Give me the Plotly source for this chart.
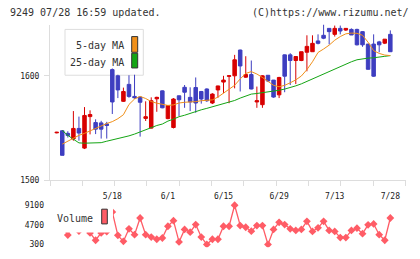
import plotly.graph_objects as go

W, H = 420, 259


def fx(px):
    return px / W


def fy(py):
    return 1 - py / H


# ---------------- data ----------------
tick_idx = [10, 20, 30, 40, 50, 60]
tick_labels = ["5/18", "6/1", "6/15", "6/29", "7/13", "7/28"]

opens = [1545.5, 1547.5, 1545, 1539.6, 1549.7, 1530.9, 1561, 1555.3, 1555, 1554,
         1605.9, 1600, 1575.6, 1591.8, 1580.3, 1579.7, 1559.3, 1550, 1578, 1585.6,
         1559.1, 1550.6, 1580.9, 1589, 1579.4, 1588.8, 1585, 1587.4, 1574, 1586.5,
         1594, 1599.5, 1600, 1624.6, 1598.7, 1601.2, 1575, 1572.4, 1600.5, 1595.9,
         1581.8, 1620, 1620, 1614.6, 1614.6, 1622.5, 1623, 1633.3, 1638.7, 1645.3,
         1639.6, 1645.3, 1643.7, 1644.3, 1644.3, 1642.2, 1630.3, 1630.3, 1632.4, 1631.2,
         1639.6]
highs = [1546.5, 1548, 1547, 1566.3, 1561, 1570.1, 1567, 1558.4, 1557, 1556,
         1607, 1601, 1588.7, 1600.5, 1601, 1580, 1575.6, 1579.4, 1580, 1586,
         1572, 1578.7, 1581, 1591.2, 1589, 1598.4, 1585.5, 1588, 1583.4, 1590.5,
         1600, 1600.3, 1620, 1625, 1618.7, 1614.6, 1589.7, 1600.6, 1600.6, 1596,
         1599, 1620.3, 1621.6, 1618.7, 1623, 1638.7, 1638.7, 1639.6, 1649, 1645.5,
         1648, 1648, 1645.5, 1645.3, 1645, 1642.5, 1630.5, 1639.6, 1633.4, 1635,
         1643.4]
lows = [1545, 1524, 1541, 1538, 1538, 1530, 1544, 1544.3, 1540, 1540,
        1563.5, 1578.7, 1575, 1579, 1578, 1541.9, 1556.8, 1549.5, 1565.6, 1569,
        1558.5, 1549.7, 1561.6, 1569.4, 1566.3, 1564.7, 1573.4, 1575, 1573, 1579,
        1583.4, 1573.8, 1588, 1585, 1598, 1587, 1569.4, 1569.4, 1594, 1579,
        1578.7, 1584.3, 1591.2, 1592.1, 1614, 1604.3, 1623, 1630, 1635, 1630,
        1637.5, 1639.6, 1642.8, 1639, 1629, 1627.7, 1606, 1599, 1622.5, 1630.3,
        1622.8]
closes = [1546, 1524, 1543, 1549.7, 1545.3, 1562.1, 1563, 1549, 1549, 1552.5,
          1575, 1586.5, 1585, 1580.3, 1579, 1574.7, 1560.9, 1576.2, 1579.4, 1569.4,
          1571.5, 1577.8, 1577.1, 1584.3, 1575, 1574, 1577.8, 1576.2, 1582.5, 1590.3,
          1595.9, 1600, 1615.3, 1609.4, 1601.2, 1587.4, 1576.2, 1600, 1595, 1579.7,
          1598.4, 1599.6, 1614.6, 1618.4, 1623, 1628.1, 1631, 1631, 1635.9, 1642.2,
          1645.3, 1642.8, 1645.3, 1639, 1629.6, 1629.6, 1606.2, 1599.6, 1629.6, 1635,
          1623]

ma5 = [None, 1534.7, 1537.5, 1540.3, 1543.1, 1545.0, 1547.3, 1549.7, 1552.5, 1554.4,
       1556.2, 1559.0, 1562.8, 1572.6, 1577.8, 1580.3, 1578.3, 1575.4, 1573.8, 1572.6,
       1571.7, 1572.2, 1574.0, 1574.7, 1574.7, 1575.3, 1576.2, 1576.6, 1577.0, 1579.7,
       1583.4, 1586.7, 1590.9, 1597.0, 1602.2, 1604.0, 1601.7, 1598.4, 1594.7, 1590.9,
       1589.5, 1590.9, 1593.3, 1596.1, 1599.8, 1605.9, 1613.4, 1622.3, 1625.6, 1629.3,
       1634.0, 1637.5, 1640.1, 1640.8, 1640.6, 1638.7, 1632.1, 1624.0, 1621.4, 1619.8,
       1619.3]
ma25 = [None, 1547.8, 1543.1, 1539.4, 1535.9, 1535.6, 1535.6, 1535.6, 1536.1, 1537.5,
        1538.6, 1539.8, 1540.8, 1542.6, 1544.3, 1546.4, 1547.8, 1550.1, 1552.5, 1553.9,
        1556.7, 1558.6, 1560.9, 1562.3, 1564.2, 1565.9, 1567.5, 1568.9, 1570.3, 1571.7,
        1573.1, 1575.0, 1576.4, 1578.7, 1580.6, 1582.5, 1583.1, 1583.7, 1584.3, 1585.0,
        1586.2, 1587.3, 1588.6, 1590.4, 1592.3, 1594.7, 1597.0, 1599.3, 1601.7, 1604.0,
        1606.4, 1608.4, 1611.1, 1613.4, 1615.3, 1616.4, 1616.9, 1617.2, 1617.6, 1618.6,
        1619.3]

volume = [5200, 4600, 2400, 5200, 3300, 4800, 2900, 1250, 2900, 3200,
          7600, 2350, 1000, 3820, 2500, 6240, 2500, 1970, 1470, 1750,
          4390, 5650, 870, 3670, 3070, 4770, 1970, 300, 1470, 1470,
          4390, 4390, 9100, 4550, 4170, 3290, 4550, 4550, 300, 3670,
          5270, 4770, 3820, 3450, 3670, 5490, 3230, 4040, 5490, 3450,
          3230, 1840, 1840, 3450, 3950, 2720, 4700, 4920, 2500, 1250,
          6240]

price_ticks = [1500, 1600]
vol_ticks = [300, 4700, 9100]

idx = list(range(len(opens)))

# ---------------- style ----------------
RED = "#d80000"
BLUE = "#3e3ec0"
ORANGE = "#f0901a"
GREEN = "#14a514"
VOLC = "#ff5c66"
AXC = "#dddddd"
TXT = "#222222"
MONO = "DejaVu Sans Mono"

X_RANGE = [-1.205, 62.73]
X_DOM = [fx(50), fx(405.5)]

fig = go.Figure()

fig.add_trace(go.Scatter(x=idx, y=ma25, mode="lines", line=dict(color=GREEN, width=1),
                         xaxis="x", yaxis="y", hoverinfo="skip", showlegend=False))
fig.add_trace(go.Scatter(x=idx, y=ma5, mode="lines", line=dict(color=ORANGE, width=1),
                         xaxis="x", yaxis="y", hoverinfo="skip", showlegend=False))
fig.add_trace(go.Candlestick(
    x=idx, open=opens, high=highs, low=lows, close=closes,
    increasing=dict(line=dict(color=RED, width=1), fillcolor=RED),
    decreasing=dict(line=dict(color=BLUE, width=1), fillcolor=BLUE),
    whiskerwidth=0, xaxis="x", yaxis="y", showlegend=False))

fig.add_trace(go.Scatter(x=idx, y=volume, mode="lines+markers",
                         line=dict(color=VOLC, width=1.3),
                         marker=dict(symbol="diamond", size=6, color=VOLC),
                         xaxis="x2", yaxis="y2", showlegend=False))

# empty trace so the decoration axis (tick marks) is drawn
fig.add_trace(go.Scatter(x=[], y=[], xaxis="x3", yaxis="y", showlegend=False))

shapes = [
    # main legend box
    dict(type="rect", xref="paper", yref="paper", x0=fx(65), x1=fx(143.3), y0=fy(76.7), y1=fy(30),
         line=dict(color=AXC, width=1), fillcolor="white", layer="below"),
    dict(type="rect", xref="paper", yref="paper", x0=fx(131.7), x1=fx(137.7), y0=fy(53.3), y1=fy(37.3),
         line=dict(color="#333333", width=1), fillcolor=ORANGE, layer="below"),
    dict(type="rect", xref="paper", yref="paper", x0=fx(131.7), x1=fx(137.7), y0=fy(69.3), y1=fy(54.3),
         line=dict(color="#333333", width=1), fillcolor=GREEN, layer="below"),
    # volume legend
    dict(type="rect", xref="paper", yref="paper", x0=fx(48), x1=fx(113), y0=fy(237), y1=fy(207),
         line=dict(width=0), fillcolor="white", layer="above"),
    dict(type="rect", xref="paper", yref="paper", x0=fx(101.7), x1=fx(107.3), y0=fy(228.3), y1=fy(213.3),
         line=dict(color="#333333", width=1), fillcolor=VOLC, layer="above"),
]

annotations = [
    dict(text="9249 07/28 16:59 updated.", xref="paper", yref="paper", x=fx(8), y=fy(12.7),
         xanchor="left", yanchor="middle", showarrow=False, font=dict(family=MONO, size=10, color="#333333")),
    dict(text="(C)https://www.rizumu.net/", xref="paper", yref="paper", x=fx(410.5), y=fy(12.7),
         xanchor="right", yanchor="middle", showarrow=False, font=dict(family=MONO, size=10, color="#333333")),
    dict(text="5-day MA", xref="paper", yref="paper", x=fx(125.5), y=fy(46),
         xanchor="right", yanchor="middle", showarrow=False, font=dict(family=MONO, size=10, color="#333333")),
    dict(text="25-day MA", xref="paper", yref="paper", x=fx(125.5), y=fy(63.3),
         xanchor="right", yanchor="middle", showarrow=False, font=dict(family=MONO, size=10, color="#333333")),
    dict(text="Volume", xref="paper", yref="paper", x=fx(95), y=fy(222.3),
         xanchor="right", yanchor="middle", showarrow=False, font=dict(family=MONO, size=10, color="#333333")),
]

fig.update_layout(
    width=W, height=H,
    margin=dict(l=0, r=0, t=0, b=0),
    paper_bgcolor="white", plot_bgcolor="white",
    showlegend=False,
    boxgap=0.1,
    shapes=shapes,
    annotations=annotations,
    xaxis=dict(domain=X_DOM, range=X_RANGE, anchor="y",
               tickmode="array", tickvals=tick_idx, ticktext=tick_labels,
               ticks="outside", ticklen=8, tickcolor="rgba(0,0,0,0)",
               tickfont=dict(family=MONO, size=8, color=TXT),
               showline=False, showgrid=False, zeroline=False,
               rangeslider=dict(visible=False), fixedrange=True),
    xaxis3=dict(domain=X_DOM, range=[0, 11], overlaying="x", anchor="y", side="bottom",
                tickmode="linear", tick0=0, dtick=1,
                ticks="outside", ticklen=5, tickcolor=AXC, tickwidth=1,
                showticklabels=False, showline=True, linecolor=AXC, linewidth=1,
                showgrid=False, zeroline=False),
    yaxis=dict(domain=[fy(184), fy(25)], range=[1500, 1649], anchor="x",
               tickmode="array", tickvals=price_ticks,
               ticks="outside", ticklen=5, tickcolor=AXC,
               ticklabelstandoff=3,
               tickfont=dict(family=MONO, size=8, color=TXT),
               showline=True, linecolor=AXC, linewidth=1,
               showgrid=False, zeroline=False),
    xaxis2=dict(domain=X_DOM, range=X_RANGE, anchor="y2", visible=False),
    yaxis2=dict(domain=[fy(252), fy(205)], range=[-294, 10046], anchor="x2",
                tickmode="array", tickvals=vol_ticks,
                ticks="", ticklabelstandoff=5,
                tickfont=dict(family=MONO, size=8, color=TXT),
                showline=False, showgrid=False, zeroline=False),
)

fig.write_html("out.html")
